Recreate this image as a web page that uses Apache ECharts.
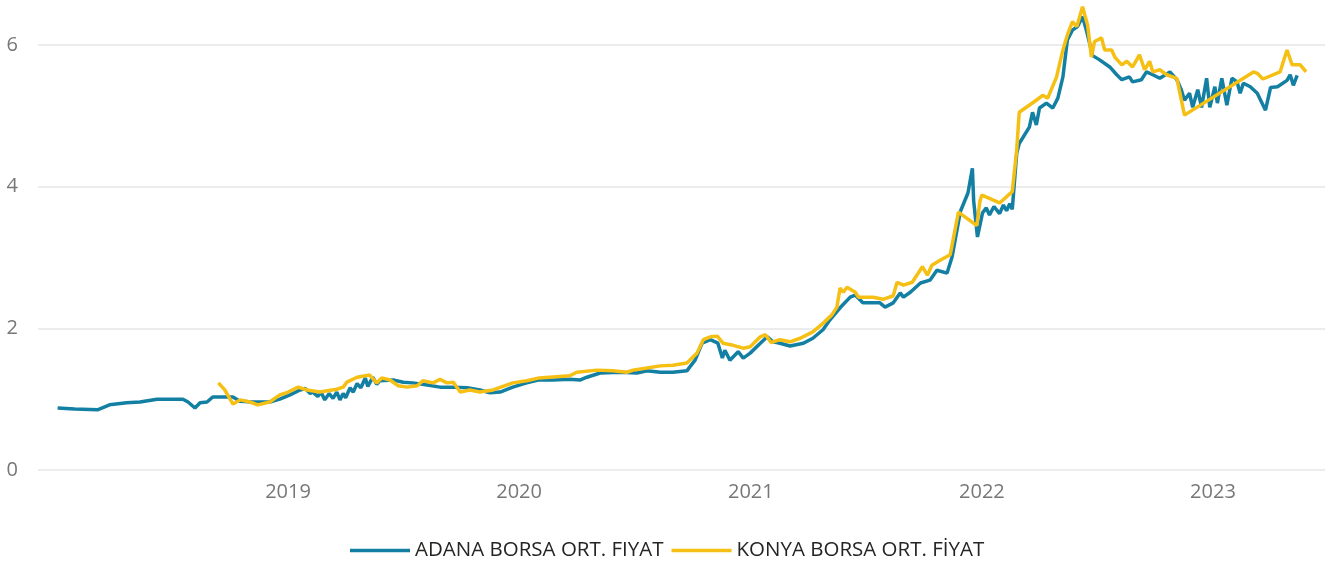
<!DOCTYPE html>
<html>
<head>
<meta charset="utf-8">
<title>Borsa Ortalama Fiyat</title>
<script src="https://cdn.jsdelivr.net/npm/echarts@6/dist/echarts.min.js"></script>
<style>
  html, body { margin: 0; padding: 0; background: #ffffff; }
  #chart { width: 1343px; height: 561px; }
</style>
</head>
<body>
<div id="chart"></div>
<script>
// Series names
const seriesNames = ['ADANA BORSA ORT. FIYAT', 'KONYA BORSA ORT. FİYAT'];

// ADANA average price
const adanaDates = [
  '2018-01-02','2018-01-29','2018-03-06','2018-03-25','2018-04-21','2018-05-12','2018-06-08','2018-07-19',
  '2018-07-27','2018-08-07','2018-08-15','2018-08-26','2018-09-04','2018-10-06','2018-10-17','2018-11-07',
  '2018-12-03','2018-12-19','2019-01-04','2019-01-20','2019-01-28','2019-02-05','2019-02-09','2019-02-17',
  '2019-02-22','2019-02-28','2019-03-07','2019-03-13','2019-03-19','2019-03-24','2019-03-29','2019-04-02',
  '2019-04-09','2019-04-14','2019-04-20','2019-04-26','2019-05-03','2019-05-07','2019-05-15','2019-05-21',
  '2019-05-26','2019-06-16',
  '2019-07-02','2019-07-17','2019-08-09','2019-08-29','2019-09-19','2019-10-11','2019-10-31','2019-11-16',
  '2019-12-02','2019-12-22','2020-01-13','2020-01-31','2020-02-23','2020-03-21','2020-04-06','2020-04-17',
  '2020-05-08','2020-06-08','2020-07-05','2020-07-21','2020-08-11','2020-08-31','2020-09-22','2020-09-27',
  '2020-10-05','2020-10-16','2020-10-29','2020-11-10','2020-11-17','2020-11-21','2020-11-29','2020-12-12',
  '2020-12-20','2020-12-31','2021-01-16','2021-01-27','2021-02-05','2021-02-16','2021-03-04','2021-03-25',
  '2021-04-09','2021-04-25','2021-05-06','2021-05-22','2021-06-07','2021-06-15','2021-06-27','2021-07-13',
  '2021-07-24','2021-08-01','2021-08-14','2021-08-25','2021-08-30','2021-09-10','2021-09-26','2021-10-11',
  '2021-10-22','2021-11-07','2021-11-15','2021-11-28','2021-12-10','2021-12-17','2021-12-19','2021-12-25',
  '2022-01-02','2022-01-08','2022-01-13','2022-01-20','2022-01-29','2022-02-04','2022-02-09','2022-02-14',
  '2022-02-18','2022-02-25','2022-03-01','2022-03-17',
  '2022-03-22','2022-03-28','2022-04-02','2022-04-13','2022-04-23','2022-05-01','2022-05-09','2022-05-16',
  '2022-05-24','2022-06-01','2022-06-09','2022-06-15','2022-06-25','2022-07-06','2022-07-22','2022-08-02',
  '2022-08-10','2022-08-22','2022-08-27','2022-09-10','2022-09-18','2022-09-28','2022-10-09','2022-10-25',
  '2022-11-05','2022-11-12','2022-11-17','2022-11-25','2022-11-30','2022-12-08','2022-12-14','2022-12-22',
  '2022-12-27','2023-01-04','2023-01-08','2023-01-15','2023-01-23','2023-01-31','2023-02-08','2023-02-13',
  '2023-02-18','2023-03-01','2023-03-12','2023-03-25','2023-04-02','2023-04-13','2023-04-28','2023-05-03',
  '2023-05-08','2023-05-14'
];
const adanaValues = [
  0.875,0.86,0.85,0.92,0.95,0.96,1.00,1.00,
  0.96,0.875,0.95,0.96,1.03,1.03,0.97,0.96,
  0.96,1.00,1.06,1.13,1.15,1.08,1.10,1.04,
  1.10,0.99,1.08,1.01,1.10,0.99,1.08,1.02,
  1.16,1.10,1.22,1.16,1.30,1.18,1.31,1.21,
  1.26,1.27,
  1.24,1.23,1.20,1.17,1.17,1.16,1.13,1.09,
  1.10,1.17,1.23,1.27,1.27,1.28,1.27,1.31,
  1.37,1.38,1.37,1.40,1.38,1.38,1.40,1.46,
  1.55,1.79,1.84,1.79,1.58,1.69,1.55,1.67,
  1.58,1.65,1.79,1.88,1.81,1.79,1.75,1.79,
  1.86,1.98,2.12,2.29,2.44,2.47,2.36,2.36,
  2.36,2.30,2.36,2.50,2.44,2.51,2.64,2.68,
  2.82,2.78,3.01,3.65,3.91,4.26,3.80,3.29,
  3.63,3.70,3.60,3.72,3.62,3.74,3.66,3.76,
  3.68,4.47,4.61,4.84,
  5.05,4.87,5.11,5.18,5.11,5.25,5.55,6.07,
  6.21,6.26,6.40,6.21,5.85,5.79,5.69,5.58,
  5.51,5.55,5.48,5.51,5.62,5.58,5.53,5.62,
  5.51,5.37,5.22,5.32,5.12,5.37,5.12,5.53,
  5.12,5.41,5.18,5.53,5.15,5.53,5.48,5.32,
  5.46,5.41,5.32,5.08,5.40,5.41,5.50,5.58,
  5.43,5.57
];

// KONYA average price
const konyaDates = [
  '2018-09-13','2018-09-23','2018-10-06','2018-10-17','2018-11-02','2018-11-14','2018-12-03','2018-12-19',
  '2018-12-30','2019-01-17','2019-01-31','2019-02-20','2019-03-19','2019-03-29','2019-04-04','2019-04-20',
  '2019-05-10','2019-05-21','2019-05-29','2019-06-11','2019-06-24','2019-07-08','2019-07-24','2019-08-02',
  '2019-08-18','2019-08-29','2019-09-09','2019-09-19','2019-09-30','2019-10-15','2019-10-31','2019-11-21',
  '2019-12-22','2020-01-13','2020-02-02','2020-03-21','2020-04-01','2020-05-03','2020-05-28','2020-06-19',
  '2020-06-29','2020-07-21','2020-08-11','2020-08-31','2020-09-22','2020-09-30','2020-10-08','2020-10-18',
  '2020-10-29','2020-11-09','2020-11-18','2020-12-04','2020-12-20','2020-12-31','2021-01-16','2021-01-24',
  '2021-02-02','2021-02-16','2021-03-04','2021-03-20','2021-04-09','2021-04-25','2021-05-09','2021-05-17',
  '2021-05-22','2021-05-27','2021-06-02','2021-06-15','2021-06-20','2021-07-13','2021-07-29','2021-08-14',
  '2021-08-20','2021-08-30','2021-09-13','2021-09-29','2021-10-07','2021-10-14','2021-10-27','2021-11-12',
  '2021-11-25','2021-12-24','2021-12-29','2022-01-01','2022-01-29','2022-02-18','2022-02-25','2022-03-01',
  '2022-03-28','2022-04-07','2022-04-15','2022-04-29','2022-05-09','2022-05-16','2022-05-24','2022-05-31',
  '2022-06-09','2022-06-17','2022-06-23','2022-06-28','2022-07-09','2022-07-14','2022-07-25','2022-07-30',
  '2022-08-10','2022-08-18','2022-08-27','2022-09-07','2022-09-15','2022-09-23','2022-09-28','2022-10-09',
  '2022-10-20','2022-11-05','2022-11-17','2023-03-06','2023-03-12','2023-03-21','2023-04-17','2023-04-28',
  '2023-05-06','2023-05-19','2023-05-28'
];
const konyaValues = [
  1.23,1.13,0.93,0.99,0.96,0.92,0.96,1.06,
  1.09,1.17,1.13,1.10,1.14,1.17,1.24,1.31,
  1.34,1.23,1.30,1.27,1.19,1.17,1.19,1.26,
  1.23,1.28,1.23,1.24,1.10,1.13,1.10,1.13,
  1.23,1.26,1.30,1.33,1.38,1.41,1.40,1.38,
  1.41,1.44,1.47,1.48,1.51,1.58,1.65,1.84,
  1.88,1.89,1.79,1.76,1.72,1.74,1.88,1.91,
  1.80,1.84,1.81,1.86,1.95,2.07,2.19,2.30,
  2.57,2.51,2.58,2.51,2.44,2.44,2.41,2.46,
  2.65,2.61,2.65,2.87,2.75,2.89,2.96,3.04,
  3.64,3.45,3.80,3.88,3.77,3.93,4.52,5.05,
  5.22,5.29,5.25,5.55,5.93,6.14,6.33,6.26,
  6.54,6.28,5.83,6.05,6.10,5.93,5.93,5.83,
  5.72,5.77,5.69,5.86,5.65,5.77,5.62,5.65,
  5.58,5.53,5.01,5.62,5.60,5.52,5.62,5.93,
  5.72,5.72,5.62
];

// Axis settings
const yTicks = [0, 2, 4, 6];
const xLabelYears = [2019, 2020, 2021, 2022, 2023];
const xRange = ['2017-12-02', '2023-06-27'];

const zip = (dates, values) => dates.map((d, i) => [d, values[i]]);

const chart = echarts.init(document.getElementById('chart'), null, { renderer: 'canvas' });
const fontFamily = '"Open Sans", "Noto Sans", sans-serif';

chart.setOption({
  animation: false,
  backgroundColor: '#ffffff',
  textStyle: { fontFamily: fontFamily },
  grid: { left: 38, right: 18, top: 45, bottom: 91, containLabel: false },
  legend: {
    top: 535,
    left: 345,
    icon: 'rect',
    itemWidth: 60,
    itemHeight: 3.5,
    itemGap: 8,
    textStyle: { fontSize: 20.5, color: '#252423', fontFamily: fontFamily },
    data: seriesNames
  },
  xAxis: {
    type: 'time',
    min: xRange[0],
    max: xRange[1],
    axisLine: { show: false },
    axisTick: { show: false },
    splitLine: { show: false },
    axisLabel: {
      color: '#777777',
      fontSize: 20,
      margin: 12,
      hideOverlap: false,
      formatter: function (val) {
        const d = new Date(val);
        const y = d.getFullYear();
        return (d.getMonth() === 0 && d.getDate() === 1 && xLabelYears.indexOf(y) >= 0) ? String(y) : '';
      }
    }
  },
  yAxis: {
    type: 'value',
    min: yTicks[0],
    max: yTicks[yTicks.length - 1],
    interval: 2,
    axisLine: { show: false },
    axisTick: { show: false },
    splitLine: { lineStyle: { color: '#e6e6e6', width: 1.5 } },
    axisLabel: { color: '#777777', fontSize: 20, margin: 20 }
  },
  series: [
    {
      name: seriesNames[0],
      type: 'line',
      data: zip(adanaDates, adanaValues),
      showSymbol: false,
      symbol: 'none',
      clip: false,
      lineStyle: { color: '#137fa3', width: 3.5 },
      itemStyle: { color: '#137fa3' }
    },
    {
      name: seriesNames[1],
      type: 'line',
      data: zip(konyaDates, konyaValues),
      showSymbol: false,
      symbol: 'none',
      clip: false,
      lineStyle: { color: '#f5bf14', width: 3.5 },
      itemStyle: { color: '#f5bf14' }
    }
  ]
});
</script>
</body>
</html>
